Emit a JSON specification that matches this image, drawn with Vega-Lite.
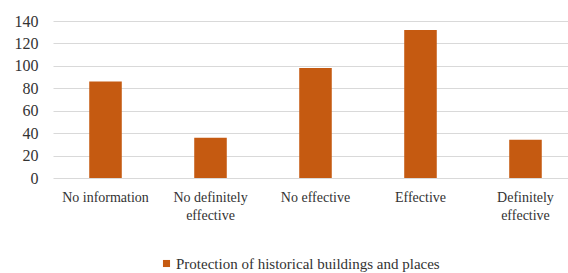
{
  "$schema": "https://vega.github.io/schema/vega-lite/v6.json",
  "autosize": {"type": "none"},
  "width": 515,
  "height": 157,
  "padding": {"left": 53, "top": 21, "right": 0, "bottom": 95},
  "background": "white",
  "config": {
    "view": {"stroke": null},
    "font": "Liberation Serif"
  },
  "data": {
    "values": [
      {"category": "No information", "value": 86, "series": "Protection of historical  buildings and places"},
      {"category": "No definitely effective", "value": 36, "series": "Protection of historical  buildings and places"},
      {"category": "No effective", "value": 98, "series": "Protection of historical  buildings and places"},
      {"category": "Effective", "value": 132, "series": "Protection of historical  buildings and places"},
      {"category": "Definitely effective", "value": 34, "series": "Protection of historical  buildings and places"}
    ]
  },
  "mark": {"type": "bar"},
  "encoding": {
    "x": {
      "field": "category",
      "type": "nominal",
      "sort": null,
      "title": null,
      "scale": {"paddingInner": 0.69, "paddingOuter": 0.2975, "align": 0.58},
      "axis": {
        "labelAngle": 0,
        "labelFont": "Liberation Serif",
        "labelColor": "#333333",
        "labelFontSize": 14,
        "labelPadding": 12,
        "ticks": false,
        "domain": false,
        "labelLineHeight": 18,
        "labelExpr": "datum.label == 'No definitely effective' ? ['No definitely', 'effective'] : datum.label == 'Definitely effective' ? ['Definitely', 'effective'] : datum.label"
      }
    },
    "y": {
      "field": "value",
      "type": "quantitative",
      "title": null,
      "scale": {"domain": [0, 140]},
      "axis": {
        "values": [0, 20, 40, 60, 80, 100, 120, 140],
        "labelFont": "Liberation Serif",
        "labelColor": "#333333",
        "labelFontSize": 16,
        "labelPadding": 15,
        "ticks": false,
        "domain": false,
        "gridColor": "#D9D9D9",
        "gridWidth": 1
      }
    },
    "color": {
      "field": "series",
      "type": "nominal",
      "title": null,
      "scale": {"range": ["#C55A11"]},
      "legend": {
        "orient": "none",
        "legendX": 106,
        "legendY": 235,
        "symbolType": "square",
        "symbolSize": 50,
        "symbolStrokeWidth": 0,
        "labelFont": "Liberation Serif",
        "labelColor": "#333333",
        "labelFontSize": 15,
        "labelOffset": 2,
        "labelLimit": 400
      }
    }
  }
}
